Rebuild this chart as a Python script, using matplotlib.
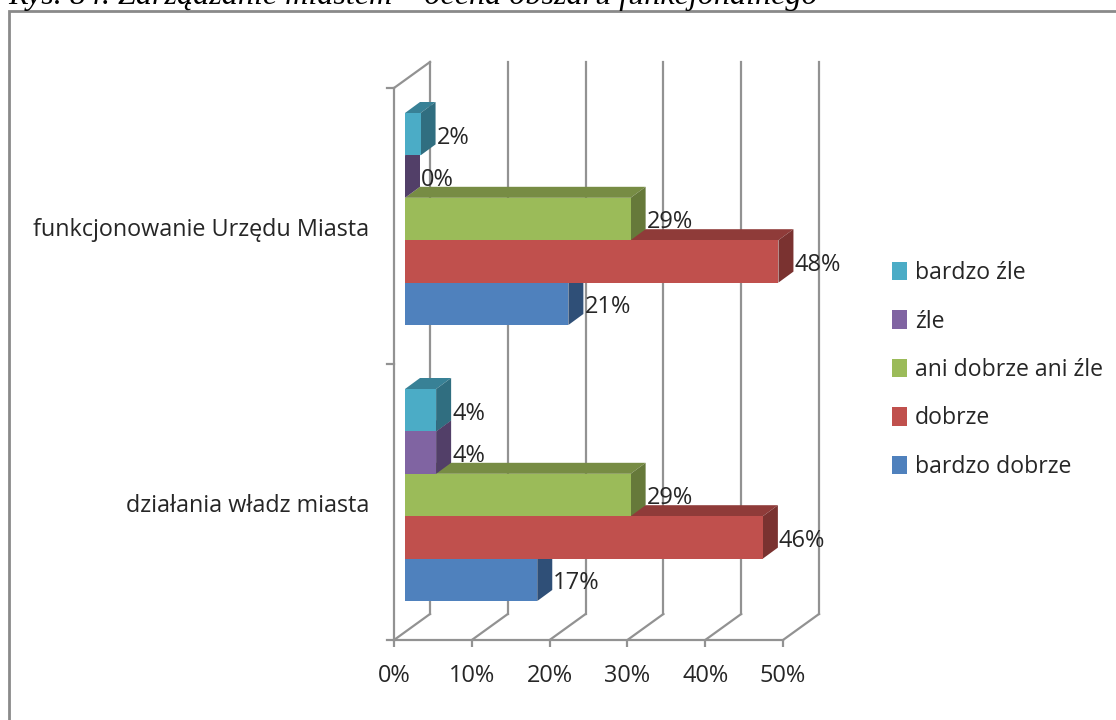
import matplotlib
matplotlib.use("Agg")
import matplotlib.pyplot as plt
from matplotlib.patches import Patch, Polygon

CATEGORIES = ["działania władz miasta", "funkcjonowanie Urzędu Miasta"]
SERIES = ["bardzo dobrze", "dobrze", "ani dobrze ani źle", "źle", "bardzo źle"]
VALUES = [
    [17, 21],
    [46, 48],
    [29, 29],
    [4, 0],
    [4, 2],
]
LABELS = [
    ["17%", "21%"],
    ["46%", "48%"],
    ["29%", "29%"],
    ["4%", "0%"],
    ["4%", "2%"],
]
XTICKS = [0, 10, 20, 30, 40, 50]
XTICK_LABELS = ["0%", "10%", "20%", "30%", "40%", "50%"]

FRONT = ["#4f81bd", "#c0504d", "#9bbb59", "#8064a2", "#4bacc6"]
TOP = ["#3a6090", "#8f3b39", "#778c44", "#5f4a79", "#388196"]
SIDE = ["#2f4f77", "#7a3230", "#66793a", "#523f68", "#306e80"]
GRID = "#929292"
TEXT = "#262626"

W, H = 1116, 720
LEFT, RIGHT, BOTTOM, TOP_PX = 394, 783, 640, 88

# 1 data unit on x = 1%, 1 unit on y = one category band
PX_X = (RIGHT - LEFT) / 50
PX_Y = (BOTTOM - TOP_PX) / 2


def dx(px):
    return px / PX_X


def dy(px):
    return px / PX_Y


plt.rcParams["font.family"] = ["Open Sans", "DejaVu Sans"]

fig = plt.figure(figsize=(W / 100, H / 100), dpi=100)
ax = fig.add_axes([LEFT / W, 1 - BOTTOM / H, (RIGHT - LEFT) / W, (BOTTOM - TOP_PX) / H])
ax.set_xlim(0, 50)
ax.set_ylim(0, 2)
ax.patch.set_visible(False)
for spine in ax.spines.values():
    spine.set_visible(False)

# outer frame of the chart
fig.add_artist(plt.Rectangle((9 / W, -0.01), (W - 5) / W, 1 - 10.5 / H + 0.01,
                             fill=False, ec="#8a8a8a", lw=2, transform=fig.transFigure))
fig.text(8 / W, 1 - 4 / H, "Rys. 84. Zarządzanie miastem – ocena obszaru funkcjonalnego",
         family="Liberation Serif", style="italic", fontsize=23.1, color="black",
         va="baseline", ha="left")

# walls and floor
depth_x, depth_y = dx(36), dy(26)
for t in XTICKS:
    ax.plot([t, t + depth_x], [0, depth_y], color=GRID, lw=1.6, clip_on=False, zorder=1)
    ax.plot([t + depth_x, t + depth_x], [depth_y, 2 + depth_y], color=GRID, lw=1.6,
            clip_on=False, zorder=1)
ax.plot([0, depth_x], [2, 2 + depth_y], color=GRID, lw=1.6, clip_on=False, zorder=1)
ax.plot([0, 0], [0, 2], color=GRID, lw=1.6, clip_on=False, zorder=1)
ax.plot([0, 50], [0, 0], color=GRID, lw=1.6, clip_on=False, zorder=1)

ax.set_xticks(XTICKS, XTICK_LABELS)
ax.set_yticks([0.5 - dy(1), 1.5 - dy(1)], CATEGORIES)
ax.tick_params(axis="x", length=5, width=1.6, color=GRID, labelsize=16.9, labelcolor=TEXT, pad=12)
ax.tick_params(axis="y", length=0, labelsize=16.85, labelcolor=TEXT, pad=18)
for tick in [0, 1, 2]:
    ax.plot([-dx(7), 0], [tick, tick], color=GRID, lw=1.6, clip_on=False, zorder=1)

# bars, lower ones first so the bar above hides their top face
bar_h = dy(42.4)
start_x, shift_y = dx(11), dy(7)
side_x, side_y = dx(15), dy(11)
for c in range(len(CATEGORIES)):
    for i in range(len(SERIES)):
        value = VALUES[i][c]
        y0 = c + 0.5 + shift_y + (i - 2.5) * bar_h
        x0 = start_x
        x1 = x0 + value
        z = 3 + i + c * 10
        ax.add_patch(Polygon([(x0, y0 + bar_h), (x1, y0 + bar_h),
                              (x1 + side_x, y0 + bar_h + side_y), (x0 + side_x, y0 + bar_h + side_y)],
                             fc=TOP[i], ec="none", zorder=z, clip_on=False))
        ax.add_patch(Polygon([(x1, y0), (x1 + side_x, y0 + side_y),
                              (x1 + side_x, y0 + bar_h + side_y), (x1, y0 + bar_h)],
                             fc=SIDE[i], ec="none", zorder=z, clip_on=False))
        ax.barh(y0, value, height=bar_h, left=x0, align="edge", color=FRONT[i],
                edgecolor="none", zorder=z + 0.5)
        ax.text(x1 + side_x + dx(1), y0 + bar_h / 2 - dy(3.5), LABELS[i][c],
                fontsize=17, color=TEXT, ha="left", va="center", zorder=40)

handles = [Patch(fc=FRONT[i], ec="none", label=SERIES[i]) for i in [4, 3, 2, 1, 0]]
ax.legend(handles=handles, loc="center left", bbox_to_anchor=(892 / W, 1 - 370 / H),
          bbox_transform=fig.transFigure, frameon=False, fontsize=16.6, labelcolor=TEXT,
          handlelength=0.65, handleheight=0.85, handletextpad=0.35, labelspacing=1.06,
          borderpad=0, borderaxespad=0)

fig.savefig("out.png", dpi=100)
